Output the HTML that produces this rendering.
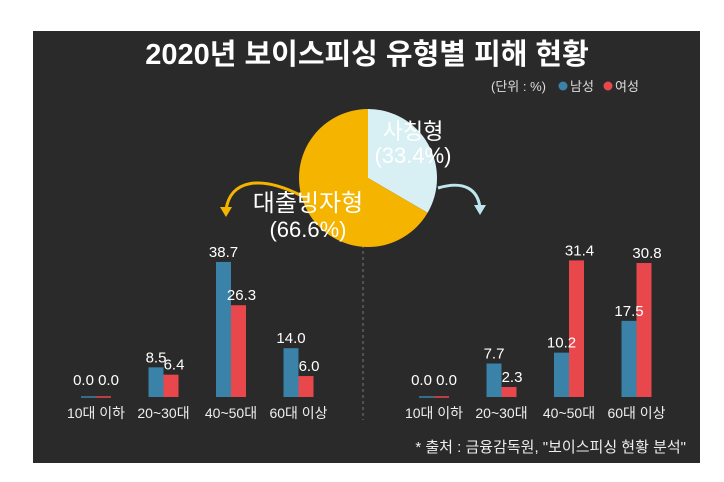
<!DOCTYPE html>
<html><head><meta charset="utf-8">
<style>
body{margin:0;background:#fff;width:724px;height:477px;overflow:hidden;font-family:"Liberation Sans","Noto Sans CJK KR",sans-serif}
svg text{font-family:"Liberation Sans","Noto Sans CJK KR",sans-serif}
</style></head><body>
<svg width="724" height="477">
<rect x="33" y="31" width="667" height="432" fill="#2a2a2a"/>
<text x="367" y="64" text-anchor="middle" fill="#fff" font-size="29" font-weight="bold">2020년 보이스피싱 유형별 피해 현황</text>
<g font-size="13" fill="#ddd">
<text x="491" y="91" fill="#ddd">(단위 : %)</text>
<circle cx="563" cy="86" r="4.5" fill="#3a82a8"/><text x="570" y="91" fill="#ddd">남성</text>
<circle cx="608" cy="86" r="4.5" fill="#e8474c"/><text x="615" y="91" fill="#ddd">여성</text>
</g>
<line x1="363" y1="245" x2="363" y2="420" stroke="#777" stroke-dasharray="3,3"/>
<path d="M300,195 C260,175 230,180 226,210" fill="none" stroke="#f5b400" stroke-width="3"/>
<polygon points="220,207 232,207 226,217" fill="#f5b400"/>
<path d="M438,188 C465,180 478,190 480,208" fill="none" stroke="#bfe6ee" stroke-width="3"/>
<polygon points="474,205 486,205 480,215" fill="#bfe6ee"/>
<g id="pie"></g>
<text x="413" y="139" text-anchor="middle" fill="#fff" font-size="22">사칭형</text>
<text x="413" y="163" text-anchor="middle" fill="#fff" font-size="22">(33.4%)</text>
<text x="308" y="211" text-anchor="middle" fill="#fff" font-size="24">대출빙자형</text>
<text x="308" y="237" text-anchor="middle" fill="#fff" font-size="22">(66.6%)</text>
<g id="bars"></g>
<text x="686" y="452" text-anchor="end" fill="#eee" font-size="15">* 출처 : 금융감독원, "보이스피싱 현황 분석"</text>
</svg>
<script>
const pieLabels=["사칭형","대출빙자형"];
const pieValues=[33.4,66.6];
const categories=["10대 이하","20~30대","40~50대","60대 이상"];
const leftMale=[0.0,8.5,38.7,14.0];
const leftFemale=[0.0,6.4,26.3,6.0];
const rightMale=[0.0,7.7,10.2,17.5];
const rightFemale=[0.0,2.3,31.4,30.8];
const NS="http://www.w3.org/2000/svg";
function mk(tag,attrs,parent,text){const e=document.createElementNS(NS,tag);for(const k in attrs)e.setAttribute(k,attrs[k]);if(text!=null)e.textContent=text;parent.appendChild(e);return e;}
// pie
const pie=document.getElementById('pie');
const cx=368,cy=178,r=69,pcols=["#d8f0f4","#f5b400"];
let total=pieValues.reduce((a,b)=>a+b,0),ang=-Math.PI/2;
pieValues.forEach((v,i)=>{const a2=ang+v/total*2*Math.PI;const large=(a2-ang)>Math.PI?1:0;
const d=`M${cx},${cy} L${cx+r*Math.cos(ang)},${cy+r*Math.sin(ang)} A${r},${r} 0 ${large} 1 ${cx+r*Math.cos(a2)},${cy+r*Math.sin(a2)} Z`;
const p=mk('path',{d:d,fill:pcols[i]},pie);


ang=a2;});
// bars
const bars=document.getElementById('bars');
const base=397,bw=15;
function panel(name,x0,step,scale,male,female){
 const g=mk('g',{},bars);
 
 
 const y=v=>base-v*scale;
 categories.forEach((c,i)=>{const xc=x0+i*step;
  const hm=Math.max(male[i]*scale,0), hf=Math.max(female[i]*scale,0);
  const b1=mk('rect',{x:xc-bw,y:y(male[i]),width:bw,height:hm,fill:"#3a82a8"},g);
  
  
  const b2=mk('rect',{x:xc,y:y(female[i]),width:bw,height:hf,fill:"#e8474c"},g);
  
  
  if(male[i]===0&&female[i]===0){
   mk('line',{x1:xc-bw,x2:xc,y1:base,y2:base,stroke:"#3a82a8","stroke-width":1.5},g);
   mk('line',{x1:xc,x2:xc+bw,y1:base,y2:base,stroke:"#e8474c","stroke-width":1.5},g);
   const t=mk('text',{x:xc,y:base-12,"text-anchor":"middle",fill:"#fff","font-size":15},g,male[i].toFixed(1)+" "+female[i].toFixed(1));
   
   
  }else{
   const t1=mk('text',{x:xc-bw/2,y:y(male[i])-5,"text-anchor":"middle",fill:"#fff","font-size":15},g,male[i].toFixed(1));
   
   
   const t2=mk('text',{x:xc+bw/2+3,y:y(female[i])-5,"text-anchor":"middle",fill:"#fff","font-size":15},g,female[i].toFixed(1));
   
   
  }
  const cl=mk('text',{x:xc,y:418,"text-anchor":"middle",fill:"#eee","font-size":14},g,c);
  
  
 });
}
panel('left-bar-chart',96,67.5,3.49,leftMale,leftFemale);
panel('right-bar-chart',434,67.5,4.35,rightMale,rightFemale);
</script>
</body></html>
